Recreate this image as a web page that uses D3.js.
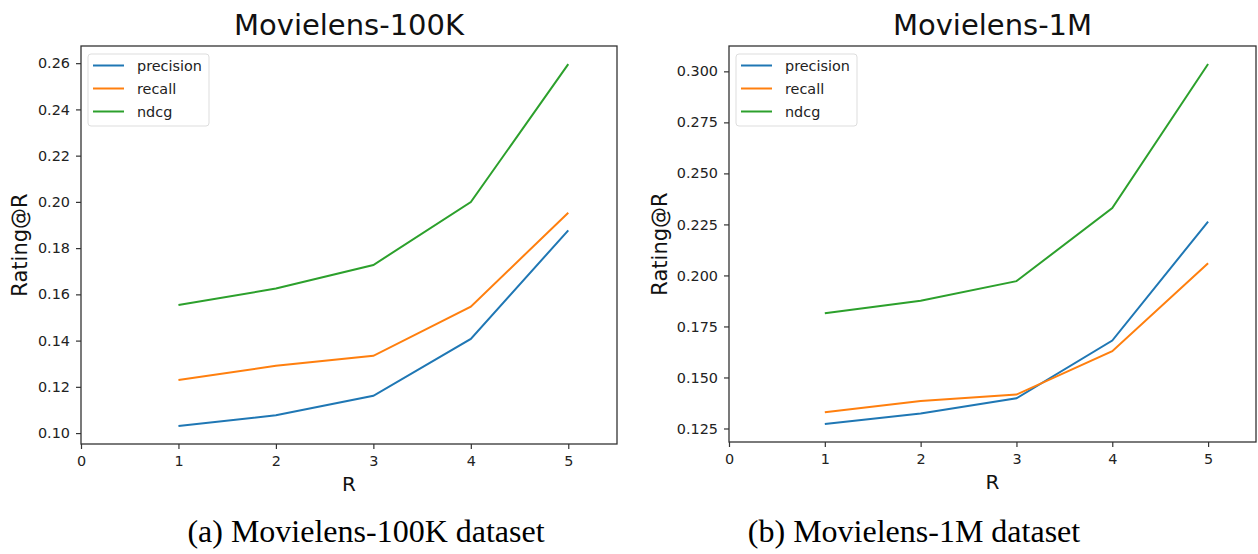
<!DOCTYPE html>
<html>
<head>
<meta charset="utf-8">
<script src="https://cdn.jsdelivr.net/npm/d3@7"></script>
<style>
  body { margin: 0; background: #fff; }
  text { font-family: "DejaVu Sans", sans-serif; }
</style>
</head>
<body>
<svg id="chart" width="1258" height="554"></svg>
<script>
// x values (R) shared by both panels
const rValues = [1, 2, 3, 4, 5]
const xTicks = [0, 1, 2, 3, 4, 5]
const seriesNames = ['precision', 'recall', 'ndcg']
const seriesColors = ['#1f77b4', '#ff7f0e', '#2ca02c']

// Movielens-100K
const ml100kPrecision = [0.1031, 0.1077, 0.1161, 0.1407, 0.1877]
const ml100kRecall = [0.1230, 0.1291, 0.1334, 0.1547, 0.1953]
const ml100kNdcg = [0.1554, 0.1625, 0.1727, 0.1999, 0.2596]
const ml100kYTicks = [0.10, 0.12, 0.14, 0.16, 0.18, 0.20, 0.22, 0.24, 0.26]

// Movielens-1M
const ml1mPrecision = [0.1272, 0.1323, 0.1398, 0.1681, 0.2264]
const ml1mRecall = [0.1330, 0.1385, 0.1416, 0.1629, 0.2060]
const ml1mNdcg = [0.1815, 0.1876, 0.1972, 0.2330, 0.3036]
const ml1mYTicks = [0.125, 0.150, 0.175, 0.200, 0.225, 0.250, 0.275, 0.300]

const svg = d3.select('#chart')

function drawPanel(opt) {
  let series = opt.series
  let all = d3.merge(series)
  let lo = d3.min(all), hi = d3.max(all)
  let pad = (hi - lo) * 0.05   // matplotlib default margins

  let x = d3.scaleLinear().domain([0, 5.5]).range([opt.left, opt.right])
  let y = d3.scaleLinear().domain([lo - pad, hi + pad]).range([opt.bottom, opt.top])

  let g = svg.append('g')

  // title
  g.append('text')
    .attr('x', (opt.left + opt.right) / 2)
    .attr('y', opt.top - 11)
    .attr('text-anchor', 'middle')
    .style('font-size', '29px')
    .attr('fill', '#111')
    .text(opt.title)

  // axes
  let xAxis = d3.axisBottom(x).tickValues(xTicks).tickFormat(d3.format('d')).tickSize(5).tickPadding(7)
  let yAxis = d3.axisLeft(y).tickValues(opt.yTicks).tickFormat(d3.format(opt.yFormat)).tickSize(5).tickPadding(6)

  g.append('g')
    .attr('transform', `translate(0,${opt.bottom})`)
    .call(xAxis)
    .call(a => a.select('.domain').remove())
  g.append('g')
    .attr('transform', `translate(${opt.left},0)`)
    .call(yAxis)
    .call(a => a.select('.domain').remove())

  g.selectAll('.tick line').attr('stroke', '#333').attr('stroke-width', 1.2)
  g.selectAll('.tick text').attr('fill', '#222').style('font-size', '14.4px').attr('font-family', 'DejaVu Sans')

  // frame
  g.append('rect')
    .attr('x', opt.left).attr('y', opt.top)
    .attr('width', opt.right - opt.left).attr('height', opt.bottom - opt.top)
    .attr('fill', 'none').attr('stroke', '#333').attr('stroke-width', 1.3)

  // axis labels
  g.append('text')
    .attr('x', (opt.left + opt.right) / 2)
    .attr('y', opt.bottom + 47)
    .attr('text-anchor', 'middle')
    .style('font-size', '20px')
    .attr('fill', '#111')
    .text('R')
  g.append('text')
    .attr('transform', `translate(${opt.left - opt.ylabelOffset},${(opt.top + opt.bottom) / 2}) rotate(-90)`)
    .attr('text-anchor', 'middle')
    .style('font-size', '21px')
    .attr('fill', '#111')
    .text('Rating@R')

  // lines
  let line = d3.line().x((d, i) => x(rValues[i])).y(d => y(d))
  series.forEach((s, i) => {
    g.append('path')
      .datum(s)
      .attr('d', line)
      .attr('fill', 'none')
      .attr('stroke', seriesColors[i])
      .attr('stroke-width', 2)
  })

  // legend
  let lg = g.append('g').attr('transform', `translate(${opt.left + 7},${opt.top + 8})`)
  lg.append('rect')
    .attr('width', 121).attr('height', 72).attr('rx', 3)
    .attr('fill', '#fff').attr('stroke', '#ddd').attr('stroke-width', 1)
  seriesNames.forEach((name, i) => {
    let yy = 11.5 + i * 23
    lg.append('line')
      .attr('x1', 5).attr('x2', 36).attr('y1', yy).attr('y2', yy)
      .attr('stroke', seriesColors[i]).attr('stroke-width', 2)
    lg.append('text')
      .attr('x', 49).attr('y', yy + 5)
      .style('font-size', '14.4px')
      .attr('fill', '#222')
      .text(name)
  })

  // caption
  svg.append('text')
    .attr('x', opt.captionX)
    .attr('y', 542)
    .attr('text-anchor', 'middle')
    .style('font-family', '"Liberation Serif", serif')
    .style('font-size', '32px')
    .attr('fill', '#000')
    .text(opt.caption)
}

drawPanel({
  title: 'Movielens-100K',
  caption: '(a) Movielens-100K dataset',
  captionX: 366,
  series: [ml100kPrecision, ml100kRecall, ml100kNdcg],
  yTicks: ml100kYTicks,
  yFormat: '.2f',
  ylabelOffset: 54,
  left: 81, right: 617, top: 46, bottom: 444
})

drawPanel({
  title: 'Movielens-1M',
  caption: '(b) Movielens-1M dataset',
  captionX: 914,
  series: [ml1mPrecision, ml1mRecall, ml1mNdcg],
  yTicks: ml1mYTicks,
  yFormat: '.3f',
  ylabelOffset: 62,
  left: 729, right: 1256, top: 46, bottom: 442
})
</script>
</body>
</html>
